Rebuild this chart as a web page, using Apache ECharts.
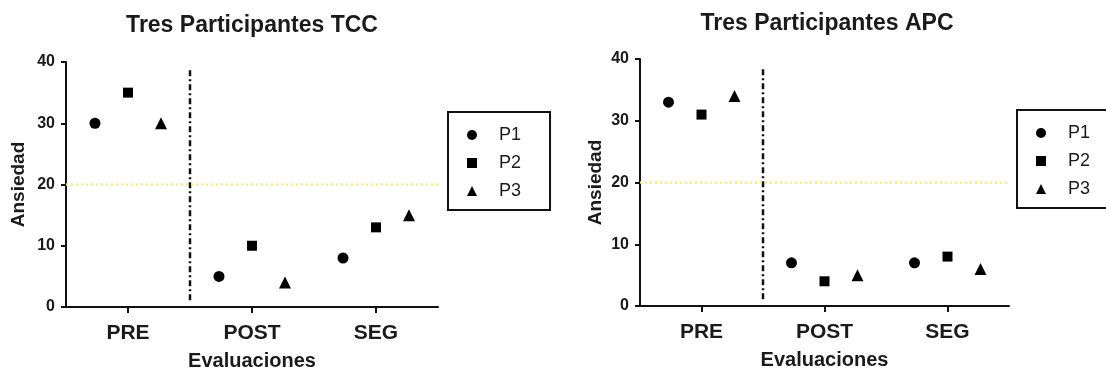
<!DOCTYPE html>
<html>
<head>
<meta charset="utf-8">
<script src="https://cdn.jsdelivr.net/npm/echarts@6/dist/echarts.min.js"></script>
<style>
  html, body { margin: 0; padding: 0; background: #fff; }
  #chart { width: 1106px; height: 374px; }
</style>
</head>
<body>
<div id="chart"></div>
<script>
// ---- data ----
const categories = ['PRE', 'POST', 'SEG'];
const seriesNames = ['P1', 'P2', 'P3'];
const seriesSymbols = ['circle', 'rect', 'triangle'];
const tccP1 = [30, 5, 8];
const tccP2 = [35, 10, 13];
const tccP3 = [30, 4, 15];
const apcP1 = [33, 7, 7];
const apcP2 = [31, 4, 8];
const apcP3 = [34, 5, 6];
const yMin = 0, yMax = 40, yInterval = 10;
const cutoffValue = 20;          // yellow dotted reference line
const dividerX = 1;              // boundary between PRE and POST (0..3 scale)
const dividerRange = [1.1, 38.7]; // vertical extent of dash-dot divider
const titles = ['Tres Participantes TCC', 'Tres Participantes APC'];
const xName = 'Evaluaciones';
const yName = 'Ansiedad';

// ---- styles ----
const FONT = 'Liberation Sans, Arial, Helvetica, sans-serif';
const TXT = '#1a1a1a';
const offsets = [-33, 0, 33];
const symSizes = [11, 10, 12];

const grids = [
  { left: 66, top: 62, width: 372, height: 245, outerBoundsMode: 'none', containLabel: false },
  { left: 640, top: 59, width: 369, height: 247, outerBoundsMode: 'none', containLabel: false }
];

function catAxis(gi) {
  return {
    type: 'category', gridIndex: gi, data: categories,
    axisLine: { show: true, lineStyle: { color: '#111', width: 2 } },
    axisTick: { show: true, alignWithLabel: true, length: 6, lineStyle: { color: '#111', width: 2 } },
    axisLabel: { fontFamily: FONT, fontSize: 21, fontWeight: 'bold', color: TXT, margin: 16 },
    name: xName, nameLocation: 'middle', nameGap: 44,
    nameTextStyle: { fontFamily: FONT, fontSize: 20, fontWeight: 'bold', color: TXT },
    splitLine: { show: false }
  };
}
function hiddenX(gi) {
  return { type: 'value', gridIndex: gi, min: 0, max: categories.length, show: false };
}
function valAxis(gi, gap) {
  return {
    type: 'value', gridIndex: gi, min: yMin, max: yMax, interval: yInterval,
    axisLine: { show: true, lineStyle: { color: '#111', width: 2 } },
    axisTick: { show: true, length: 5, lineStyle: { color: '#111', width: 2 } },
    axisLabel: { fontFamily: FONT, fontSize: 16, fontWeight: 'bold', color: TXT, margin: 11 },
    splitLine: { show: false },
    name: yName, nameLocation: 'middle', nameGap: gap, nameRotate: 90,
    nameTextStyle: { fontFamily: FONT, fontSize: 19, fontWeight: 'bold', color: TXT }
  };
}

function chartSeries(gi, arrays) {
  const out = arrays.map((vals, i) => ({
    type: 'scatter', name: seriesNames[i], xAxisIndex: gi, yAxisIndex: gi,
    data: vals, symbol: seriesSymbols[i], symbolSize: symSizes[i],
    symbolOffset: [offsets[i], 0],
    itemStyle: { color: '#000', opacity: 1 },
    markLine: i === 0 ? {
      silent: true, symbol: 'none', label: { show: false },
      lineStyle: { color: '#f1eb86', width: 2.5, type: [2, 3], opacity: 1 },
      data: [{ yAxis: cutoffValue }]
    } : undefined
  }));
  out.push({
    type: 'line', xAxisIndex: gi + 2, yAxisIndex: gi, silent: true,
    data: [[dividerX, dividerRange[0]], [dividerX, dividerRange[1]]],
    symbol: 'none',
    lineStyle: { color: '#111', width: 2.5, type: [6, 3, 2, 3] }
  });
  return out;
}

function legend(left, top) {
  return {
    orient: 'vertical', left: left, top: top,
    data: seriesNames.map((n, i) => ({ name: n, icon: seriesSymbols[i] })),
    itemWidth: 10, itemHeight: 10, itemGap: 8,
    padding: [13, 29, 9, 19],
    borderColor: '#111', borderWidth: 2, borderRadius: 0,
    selectedMode: false,
    itemStyle: { color: '#000', opacity: 1 },
    textStyle: { fontFamily: FONT, fontSize: 18, color: TXT, lineHeight: 20, padding: [0, 0, 0, 17] }
  };
}

const chart = echarts.init(document.getElementById('chart'), null, { renderer: 'canvas' });
chart.setOption({
  animation: false,
  backgroundColor: '#fff',
  title: [
    { text: titles[0], left: 252, top: 14, textAlign: 'center', padding: 0,
      textStyle: { fontFamily: FONT, fontSize: 23, fontWeight: 'bold', color: TXT } },
    { text: titles[1], left: 827, top: 12, textAlign: 'center', padding: 0,
      textStyle: { fontFamily: FONT, fontSize: 23, fontWeight: 'bold', color: TXT } }
  ],
  legend: [legend(448, 112), legend(1017, 110)],
  grid: grids,
  xAxis: [catAxis(0), catAxis(1), hiddenX(0), hiddenX(1)],
  yAxis: [valAxis(0, 38), valAxis(1, 35)],
  series: [].concat(
    chartSeries(0, [tccP1, tccP2, tccP3]),
    chartSeries(1, [apcP1, apcP2, apcP3])
  )
});
</script>
</body>
</html>
